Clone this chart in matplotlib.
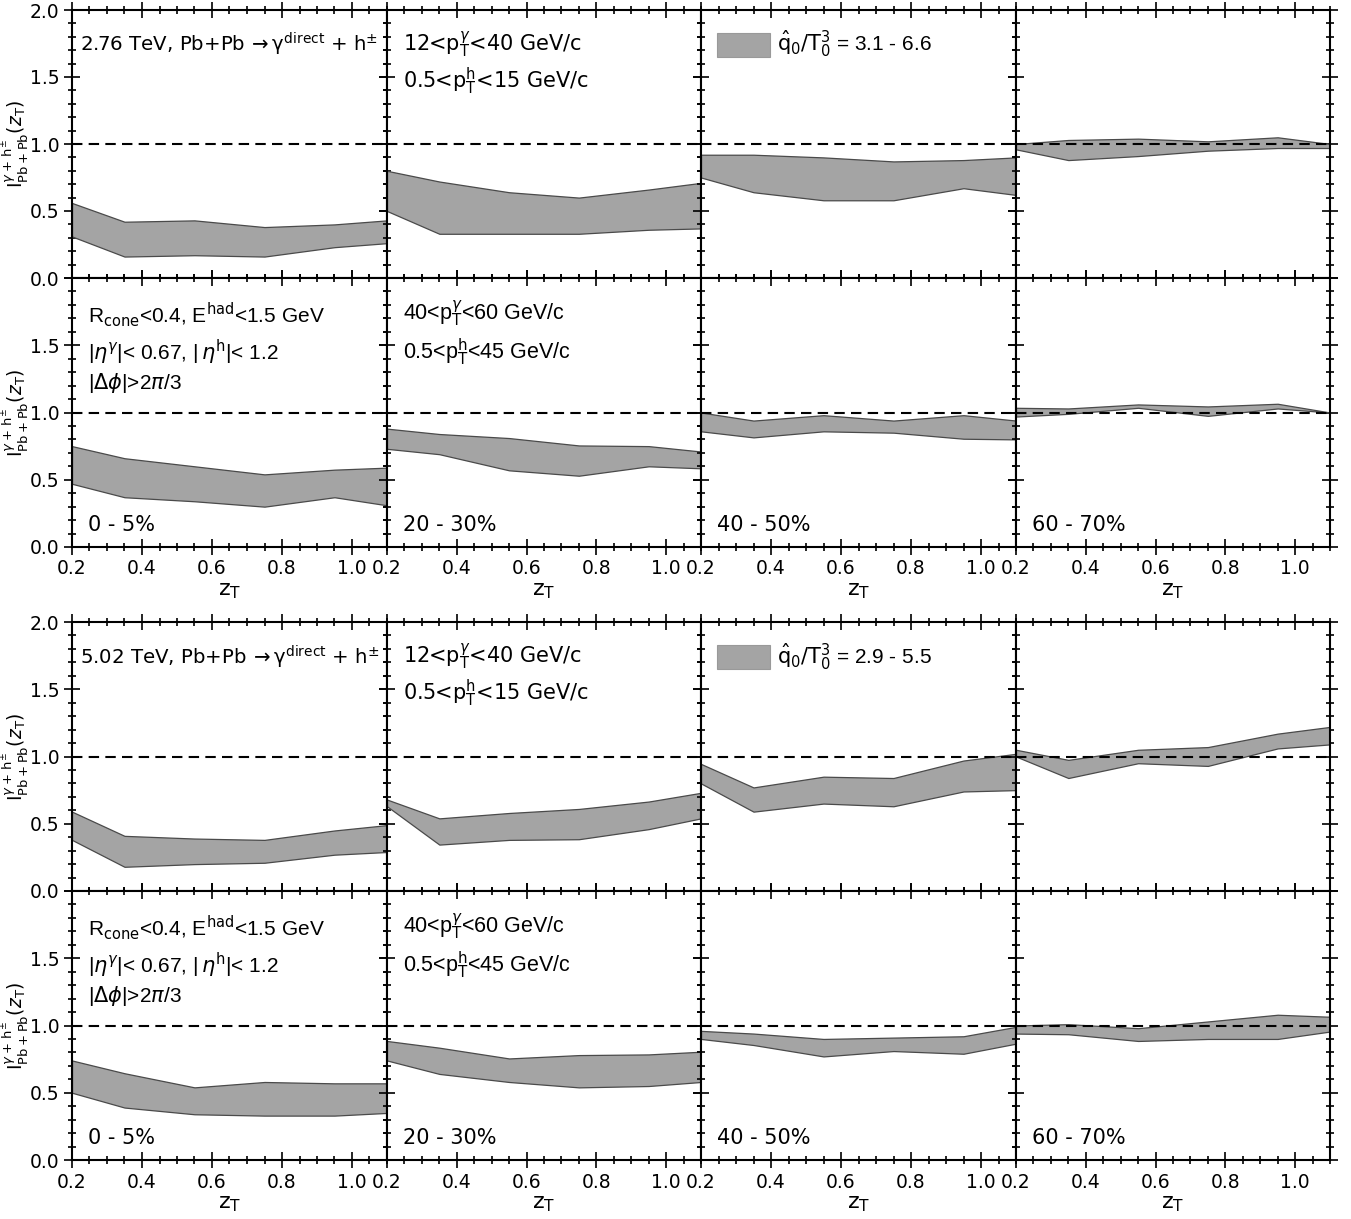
import matplotlib
matplotlib.use("Agg")
import matplotlib.pyplot as plt
from matplotlib.ticker import MultipleLocator, FormatStrFormatter, FuncFormatter
from matplotlib.patches import Rectangle

# z_T points where the bands are evaluated
zT = [0.2, 0.35, 0.55, 0.75, 0.95, 1.1]
centralities = ["0 - 5%", "20 - 30%", "40 - 50%", "60 - 70%"]

# 2.76 TeV, 12 < pT(gamma) < 40 GeV/c  (one row per centrality)
lo_276_low = [[0.31, 0.16, 0.17, 0.16, 0.23, 0.26],
              [0.50, 0.33, 0.33, 0.33, 0.36, 0.37],
              [0.75, 0.64, 0.58, 0.58, 0.67, 0.62],
              [0.96, 0.88, 0.91, 0.95, 0.97, 0.97]]
hi_276_low = [[0.56, 0.42, 0.43, 0.38, 0.40, 0.43],
              [0.80, 0.72, 0.64, 0.60, 0.66, 0.71],
              [0.92, 0.92, 0.90, 0.87, 0.88, 0.90],
              [1.00, 1.03, 1.04, 1.02, 1.05, 1.00]]
# 2.76 TeV, 40 < pT(gamma) < 60 GeV/c
lo_276_high = [[0.47, 0.37, 0.34, 0.30, 0.37, 0.31],
               [0.73, 0.69, 0.57, 0.53, 0.60, 0.585],
               [0.86, 0.815, 0.86, 0.85, 0.805, 0.80],
               [0.97, 0.99, 1.035, 0.975, 1.03, 1.00]]
hi_276_high = [[0.75, 0.66, 0.60, 0.54, 0.575, 0.59],
               [0.88, 0.84, 0.81, 0.755, 0.75, 0.71],
               [1.00, 0.94, 0.98, 0.94, 0.98, 0.94],
               [1.035, 1.03, 1.06, 1.045, 1.065, 1.00]]
# 5.02 TeV, 12 < pT(gamma) < 40 GeV/c
lo_502_low = [[0.38, 0.18, 0.20, 0.21, 0.27, 0.29],
              [0.63, 0.345, 0.38, 0.385, 0.46, 0.54],
              [0.80, 0.59, 0.65, 0.63, 0.74, 0.75],
              [1.00, 0.84, 0.95, 0.93, 1.06, 1.09]]
hi_502_low = [[0.59, 0.41, 0.39, 0.38, 0.45, 0.49],
              [0.68, 0.54, 0.58, 0.61, 0.665, 0.73],
              [0.945, 0.77, 0.85, 0.84, 0.97, 1.02],
              [1.05, 0.975, 1.05, 1.07, 1.17, 1.22]]
# 5.02 TeV, 40 < pT(gamma) < 60 GeV/c
lo_502_high = [[0.50, 0.39, 0.34, 0.33, 0.33, 0.35],
               [0.74, 0.64, 0.58, 0.54, 0.55, 0.58],
               [0.90, 0.855, 0.77, 0.81, 0.79, 0.865],
               [0.94, 0.935, 0.885, 0.90, 0.90, 0.955]]
hi_502_high = [[0.74, 0.645, 0.54, 0.58, 0.57, 0.57],
               [0.885, 0.835, 0.755, 0.78, 0.785, 0.805],
               [0.96, 0.94, 0.90, 0.91, 0.92, 0.99],
               [1.00, 1.01, 0.98, 1.03, 1.08, 1.065]]

energies = ["2.76", "5.02"]
qhat_ranges = ["3.1 - 6.6", "2.9 - 5.5"]
bands = [[(lo_276_low, hi_276_low), (lo_276_high, hi_276_high)],
         [(lo_502_low, hi_502_low), (lo_502_high, hi_502_high)]]

W, H = 1351, 1219
col_x = [72, 387, 701, 1016, 1330]
row_y = [(10, 278, 547), (622, 891, 1160)]

fill_color = "#a4a4a4"
edge_color = "#4a4a4a"
helv = "Liberation Sans"

fig = plt.figure(figsize=(W / 100, H / 100), dpi=100)


def px_rect(x0, x1, y0, y1):
    return [x0 / W, 1 - y1 / H, (x1 - x0) / W, (y1 - y0) / H]


# lower panels do not repeat the 2.0 label of the shared border
no_top_label = FuncFormatter(lambda v, pos: "" if v > 1.99 else "%.1f" % v)

for b in range(2):
    for r in range(2):
        y0, y1 = row_y[b][r], row_y[b][r + 1]
        lo_rows, hi_rows = bands[b][r]
        for c in range(4):
            ax = fig.add_axes(px_rect(col_x[c], col_x[c + 1], y0, y1))
            ax.fill_between(zT, lo_rows[c], hi_rows[c], facecolor=fill_color,
                            edgecolor=edge_color, linewidth=0.9, zorder=2)
            ax.axhline(1.0, color="black", lw=1.5, ls=(0, (5, 3)), zorder=3)
            ax.set_xlim(0.2, 1.1)
            ax.set_ylim(0, 2.0)
            ax.xaxis.set_major_locator(MultipleLocator(0.2))
            ax.xaxis.set_minor_locator(MultipleLocator(0.05))
            ax.yaxis.set_major_locator(MultipleLocator(0.5))
            ax.yaxis.set_minor_locator(MultipleLocator(0.1))
            ax.xaxis.set_major_formatter(FormatStrFormatter("%.1f"))
            if r == 1:
                ax.yaxis.set_major_formatter(no_top_label)
            else:
                ax.yaxis.set_major_formatter(FormatStrFormatter("%.1f"))
            ax.tick_params(which="both", direction="inout", top=True, right=True,
                           width=1.2, labelsize=13.5)
            ax.tick_params(which="major", length=11)
            ax.tick_params(which="minor", length=6)
            for sp in ax.spines.values():
                sp.set_linewidth(1.5)

            if r == 0:
                ax.tick_params(labelbottom=False)
            else:
                ax.set_xlabel(r"$\mathrm{z_T}$", fontsize=16, labelpad=2)
                ax.text(0.05, 0.08, centralities[c], transform=ax.transAxes,
                        fontsize=15, va="center", ha="left")
            if c == 0:
                ax.set_ylabel(r"$\mathrm{I}^{\gamma+\,\mathrm{h}^{\pm}}_{\mathrm{Pb+Pb}}(z_\mathrm{T})$",
                              fontsize=13.5)
                ax.yaxis.set_label_coords(-0.18, 0.5)
                ax.yaxis.label.set_va("center")
            else:
                ax.tick_params(labelleft=False)

            # panel annotations
            if r == 0 and c == 0:
                ax.text(0.025, 0.87,
                        energies[b] + r" TeV, Pb+Pb$\,\rightarrow\mathrm{\gamma}^{\mathrm{direct}}$ + h$^{\pm}$",
                        transform=ax.transAxes, fontsize=14.2, va="center", ha="left")
            if r == 0 and c == 1:
                ax.text(0.05, 0.87, r"12<p$_\mathrm{T}^{\gamma}$<40 GeV/c",
                        transform=ax.transAxes, fontsize=15, va="center")
                ax.text(0.05, 0.735, r"0.5<p$_\mathrm{T}^{\mathrm{h}}$<15 GeV/c",
                        transform=ax.transAxes, fontsize=15, va="center")
            if r == 0 and c == 2:
                ax.add_patch(Rectangle((0.05, 0.825), 0.17, 0.09, transform=ax.transAxes,
                                       facecolor=fill_color, edgecolor="#999999", lw=0.8))
                ax.text(0.24, 0.87, r"$\hat{\mathrm{q}}_0/\mathrm{T}_0^3$ = " + qhat_ranges[b],
                        transform=ax.transAxes, fontsize=15, va="center",
                        family=helv)
            if r == 1 and c == 0:
                ax.text(0.05, 0.865, r"R$_\mathrm{cone}$<0.4, E$^\mathrm{had}$<1.5 GeV",
                        transform=ax.transAxes, fontsize=15, va="center", family=helv)
                ax.text(0.05, 0.725, r"|$\eta^{\gamma}$|< 0.67, |$\,\eta^{\mathrm{h}}$|< 1.2",
                        transform=ax.transAxes, fontsize=15, va="center", family=helv)
                ax.text(0.05, 0.61, r"|$\Delta\phi$|>2$\pi$/3",
                        transform=ax.transAxes, fontsize=15, va="center", family=helv)
            if r == 1 and c == 1:
                ax.text(0.05, 0.865, r"40<p$_\mathrm{T}^{\gamma}$<60 GeV/c",
                        transform=ax.transAxes, fontsize=15.5, va="center", family=helv)
                ax.text(0.05, 0.725, r"0.5<p$_\mathrm{T}^{\mathrm{h}}$<45 GeV/c",
                        transform=ax.transAxes, fontsize=15.5, va="center", family=helv)

plt.savefig("out.png", dpi=100)
plt.close()
